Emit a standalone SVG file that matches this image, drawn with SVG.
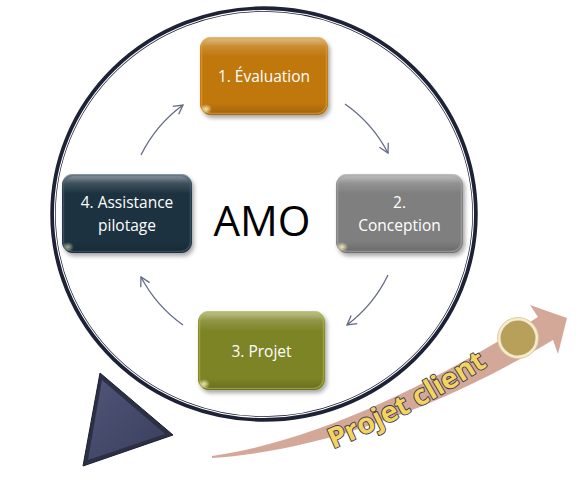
<svg xmlns="http://www.w3.org/2000/svg" width="580" height="486" viewBox="0 0 580 486">
<defs>
<style>
.lbl{font-family:"Open Sans","Noto Sans","Liberation Sans",sans-serif;font-size:15.5px;fill:#ffffff;text-anchor:middle;}
.conn{fill:none;stroke:#646a85;stroke-width:1.3;marker-end:url(#ah);}
.gloss{fill:url(#gl);}
</style>
<linearGradient id="gl" x1="0" y1="0" x2="0" y2="1">
<stop offset="0" stop-color="#ffffff" stop-opacity="0.55"/>
<stop offset="0.12" stop-color="#ffffff" stop-opacity="0.15"/>
<stop offset="0.25" stop-color="#ffffff" stop-opacity="0"/>
<stop offset="0.85" stop-color="#000000" stop-opacity="0"/>
<stop offset="1" stop-color="#000000" stop-opacity="0.18"/>
</linearGradient>
<radialGradient id="spot" cx="0.5" cy="0.5" r="0.5">
<stop offset="0" stop-color="#fff6c0" stop-opacity="0.9"/>
<stop offset="1" stop-color="#fff6c0" stop-opacity="0"/>
</radialGradient>
<linearGradient id="tri" x1="0" y1="0" x2="1" y2="1">
<stop offset="0" stop-color="#50557a"/>
<stop offset="1" stop-color="#3a3f5c"/>
</linearGradient>
<filter id="sh" x="-20%" y="-20%" width="140%" height="150%">
<feDropShadow dx="2" dy="3" stdDeviation="2" flood-color="#000" flood-opacity="0.35"/>
</filter>
<marker id="ah" viewBox="-11 -7 13 14" refX="0" refY="0" markerWidth="13" markerHeight="14" markerUnits="userSpaceOnUse" orient="auto">
<path d="M-9,-5 L0,0 L-9,5" fill="none" stroke="#646a85" stroke-width="1.3"/>
</marker>
</defs>
<rect width="580" height="486" fill="#ffffff"/>

<g id="ring">
<ellipse cx="264" cy="214" rx="211" ry="205" fill="none" stroke="#1e2236" stroke-width="5.5"/>
<ellipse cx="264" cy="214" rx="209.5" ry="203.5" fill="none" stroke="#ffffff" stroke-width="1.1"/>
</g>

<g id="projet-client">
<path d="M212,458 C300,452 420,420 553,340 L558,354 L567,318 L530,305 L538,317 C430,385 320,440 212,456 Z" fill="#d4a899"/>
<circle cx="518" cy="338" r="19" fill="#b9a05a" stroke="#f3ecd2" stroke-width="3"/>
<circle cx="518" cy="338" r="20.5" fill="none" stroke="#d8c58a" stroke-width="0.8"/>
<path id="tp" d="M333,449 Q420,412 502,356" fill="none"/>
<text font-family="'Open Sans','Noto Sans',sans-serif" font-size="28" font-weight="700" fill="#f4d45e" stroke="#343a52" stroke-width="1.8" paint-order="stroke" stroke-linejoin="round"><textPath href="#tp" textLength="176" lengthAdjust="spacingAndGlyphs">Projet client</textPath></text>
</g>

<g id="pointer">
<polygon points="100,373 83,466 173,435" fill="#2c3046" stroke="#1c1f2e" stroke-width="1" stroke-linejoin="round"/>
<polygon points="102,380 88,460 165,434" fill="url(#tri)"/>
</g>

<g id="connectors">
<path class="conn" d="M141,155 A137,137 0 0 1 183,105"/>
<path class="conn" d="M345,104 A137,137 0 0 1 388,153"/>
<path class="conn" d="M388,275 A137,137 0 0 1 347,325"/>
<path class="conn" d="M183,325 A137,137 0 0 1 141,277"/>
</g>

<g id="amo">
<text x="262" y="236" font-family="'Open Sans','Noto Sans',sans-serif" font-size="42" fill="#000000" text-anchor="middle">AMO</text>
</g>

<g id="n1">
<rect x="200" y="37" width="128" height="78" rx="11" fill="#c0780a" filter="url(#sh)"/>
<rect x="200" y="37" width="128" height="78" rx="11" class="gloss"/>
<rect x="201.5" y="38.5" width="125" height="75" rx="10" fill="none" stroke="#e0a040" stroke-opacity="0.6" stroke-width="1.5"/>
<ellipse cx="206" cy="109" rx="6" ry="5" fill="url(#spot)"/>
<text class="lbl" x="264" y="82">1. Évaluation</text>
</g>

<g id="n2">
<rect x="336" y="174" width="127" height="79" rx="11" fill="#7f7f7f" filter="url(#sh)"/>
<rect x="336" y="174" width="127" height="79" rx="11" class="gloss"/>
<rect x="337.5" y="175.5" width="124" height="76" rx="10" fill="none" stroke="#a8a8a8" stroke-opacity="0.6" stroke-width="1.5"/>
<ellipse cx="342" cy="247" rx="6" ry="5" fill="url(#spot)"/>
<text class="lbl" x="399.5" y="208">2.</text>
<text class="lbl" x="399.5" y="231">Conception</text>
</g>

<g id="n4">
<rect x="62" y="174" width="130" height="79" rx="11" fill="#1e3041" filter="url(#sh)"/>
<rect x="62" y="174" width="130" height="79" rx="11" class="gloss"/>
<rect x="63.5" y="175.5" width="127" height="76" rx="10" fill="none" stroke="#4a6278" stroke-opacity="0.6" stroke-width="1.5"/>
<ellipse cx="68" cy="247" rx="6" ry="5" fill="url(#spot)" opacity="0.7"/>
<text class="lbl" x="127" y="208">4. Assistance</text>
<text class="lbl" x="127" y="231">pilotage</text>
</g>

<g id="n3">
<rect x="198" y="311" width="127" height="79" rx="11" fill="#7d8426" filter="url(#sh)"/>
<rect x="198" y="311" width="127" height="79" rx="11" class="gloss"/>
<rect x="199.5" y="312.5" width="124" height="76" rx="10" fill="none" stroke="#b0b848" stroke-opacity="0.6" stroke-width="1.5"/>
<ellipse cx="204" cy="384" rx="6" ry="5" fill="url(#spot)"/>
<text class="lbl" x="261.5" y="357">3. Projet</text>
</g>
</svg>
